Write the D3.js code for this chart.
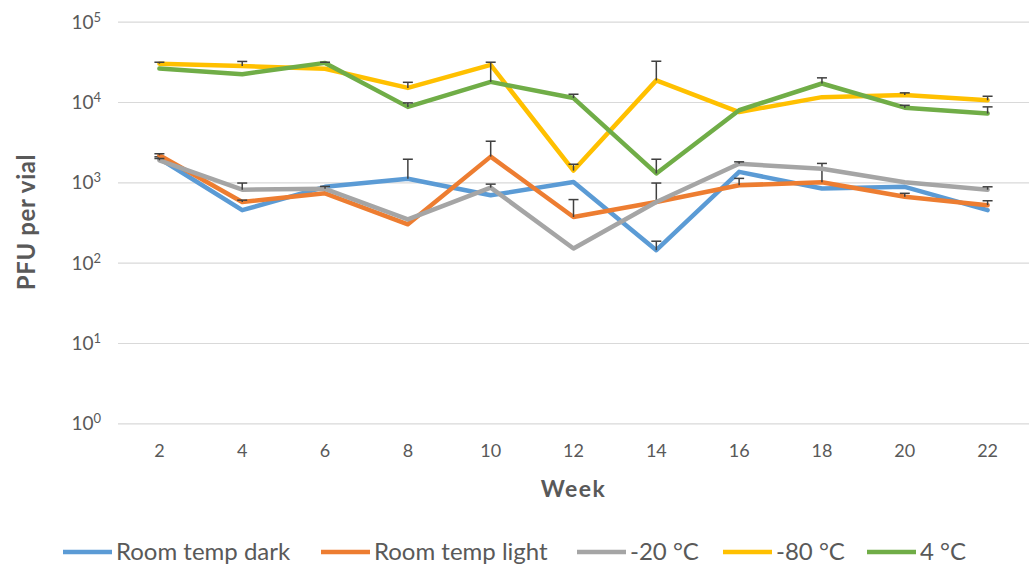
<!DOCTYPE html>
<html>
<head>
<meta charset="utf-8">
<script src="https://cdn.jsdelivr.net/npm/d3@7"></script>
<style>
  html, body { margin: 0; padding: 0; background: #ffffff; }
  svg { display: block; font-family: Lato, "Open Sans", sans-serif; }
</style>
</head>
<body>
<svg id="chart" width="1029" height="566"></svg>
<script>
// Weeks of storage (x categories)
const weeks = [2, 4, 6, 8, 10, 12, 14, 16, 18, 20, 22];

// Mean PFU per vial for each storage condition
const roomDark  = [1980, 450, 880, 1110, 690, 1010, 143, 1350, 840, 880, 450];
const roomLight = [2170, 570, 730, 300, 2090, 370, 570, 920, 1000, 660, 520];
const minus20   = [1880, 810, 830, 345, 860, 150, 570, 1700, 1480, 1000, 810];
const minus80   = [30000, 28000, 26000, 15000, 29000, 1400, 18600, 7500, 11500, 12200, 10500];
const plus4     = [26100, 22200, 30700, 8700, 17800, 11200, 1290, 7900, 17000, 8500, 7200];

// Upper error (PFU) for each condition
const roomDarkErr  = [100, 0, 0, 830, 0, 0, 42, 0, 0, 0, 0];
const roomLightErr = [100, 30, 0, 0, 1160, 240, 410, 200, 720, 70, 70];
const minus20Err   = [100, 170, 60, 0, 90, 0, 0, 100, 0, 0, 70];
const minus80Err   = [1300, 4000, 0, 2600, 0, 280, 13600, 0, 0, 800, 1300];
const plus4Err     = [0, 0, 600, 1050, 13500, 1300, 650, 0, 3000, 600, 1500];

const seriesNames = ["Room temp dark", "Room temp light", "-20 °C", "-80 °C", "4 °C"];
const seriesColors = ["#5b9bd5", "#ed7d31", "#a5a5a5", "#ffc000", "#70ad47"];

// Y axis tick values (powers of ten) and their exponents
const yTicks = [1, 10, 100, 1000, 10000, 100000];
const yExponents = ["0", "1", "2", "3", "4", "5"];

const series = seriesNames.map((name, i) => ({
  name,
  color: seriesColors[i],
  values: [roomDark, roomLight, minus20, minus80, plus4][i],
  errors: [roomDarkErr, roomLightErr, minus20Err, minus80Err, plus4Err][i]
}));

const svg = d3.select("#chart");
const plot = { left: 118, right: 1029, top: 21.7, bottom: 423.3 };

const x = d3.scaleBand().domain(weeks).range([plot.left, plot.right]).padding(0);
const y = d3.scaleLog().domain([1, 100000]).range([plot.bottom, plot.top]);
const cx = w => x(w) + x.bandwidth() / 2;

// Horizontal gridlines
svg.append("g")
  .attr("transform", `translate(${plot.left},0)`)
  .call(d3.axisLeft(y).tickValues(yTicks).tickSize(-(plot.right - plot.left)).tickFormat(""))
  .call(g => g.select(".domain").remove())
  .call(g => g.selectAll("line").attr("stroke", "#d9d9d9").attr("stroke-width", 1.2));

// Y tick labels as 10 with superscript exponents
const yAxis = svg.append("g")
  .attr("transform", `translate(101,0)`)
  .call(d3.axisLeft(y).tickValues(yTicks).tickSize(0).tickPadding(0).tickFormat(""))
  .call(g => g.select(".domain").remove());
yAxis.selectAll(".tick text").each(function(d) {
  const t = d3.select(this)
    .attr("fill", "#595959")
    .attr("font-size", 19)
    .attr("font-family", "Lato, sans-serif")
    .attr("text-anchor", "end")
    .attr("dy", "0.35em");
  t.append("tspan").text("10");
  t.append("tspan").attr("font-size", 13).attr("dy", "-0.55em").text(yExponents[yTicks.indexOf(d)]);
});

// X axis labels
svg.append("g")
  .attr("transform", `translate(0,${plot.bottom})`)
  .call(d3.axisBottom(x).tickSize(0).tickPadding(21))
  .call(g => g.select(".domain").remove())
  .call(g => g.selectAll("text")
    .attr("fill", "#595959")
    .attr("font-size", 18)
    .attr("font-family", "Lato, sans-serif"));

// Axis titles
svg.append("text")
  .attr("x", (plot.left + plot.right) / 2)
  .attr("y", 497)
  .attr("text-anchor", "middle")
  .attr("font-size", 23)
  .attr("letter-spacing", 1.5)
  .attr("font-weight", "bold")
  .attr("fill", "#595959")
  .text("Week");

svg.append("text")
  .attr("transform", "translate(35,222) rotate(-90)")
  .attr("text-anchor", "middle")
  .attr("font-size", 24)
  .attr("letter-spacing", 0.6)
  .attr("font-weight", "bold")
  .attr("fill", "#595959")
  .text("PFU per vial");

// Series lines with upper error bars
const line = d3.line()
  .x((d, i) => cx(weeks[i]))
  .y(d => y(d));

series.forEach(s => {
  const g = svg.append("g").attr("class", "series");
  g.append("path")
    .datum(s.values)
    .attr("d", line)
    .attr("fill", "none")
    .attr("stroke", s.color)
    .attr("stroke-width", 4.5)
    .attr("stroke-linejoin", "round")
    .attr("stroke-linecap", "round");

  const bars = g.selectAll(".err")
    .data(s.values.map((v, i) => ({ w: weeks[i], v, e: s.errors[i] })).filter(d => d.e > 0))
    .join("g")
    .attr("class", "err")
    .attr("stroke", "#404040")
    .attr("stroke-width", 1.5);
  bars.append("line")
    .attr("x1", d => cx(d.w)).attr("x2", d => cx(d.w))
    .attr("y1", d => y(d.v)).attr("y2", d => y(d.v + d.e));
  bars.append("line")
    .attr("x1", d => cx(d.w) - 5).attr("x2", d => cx(d.w) + 5)
    .attr("y1", d => y(d.v + d.e)).attr("y2", d => y(d.v + d.e));
});

// Legend
const legendX = [63, 321, 577, 723, 867];
const legend = svg.append("g").attr("class", "legend");
series.forEach((s, i) => {
  const item = legend.append("g").attr("transform", `translate(${legendX[i]},552)`);
  item.append("line")
    .attr("x1", 0).attr("x2", 49).attr("y1", 0).attr("y2", 0)
    .attr("stroke", s.color).attr("stroke-width", 4.5);
  item.append("text")
    .attr("x", 53)
    .attr("dy", "0.35em")
    .attr("font-size", 24)
    .attr("fill", "#595959")
    .text(s.name);
});
</script>
</body>
</html>
